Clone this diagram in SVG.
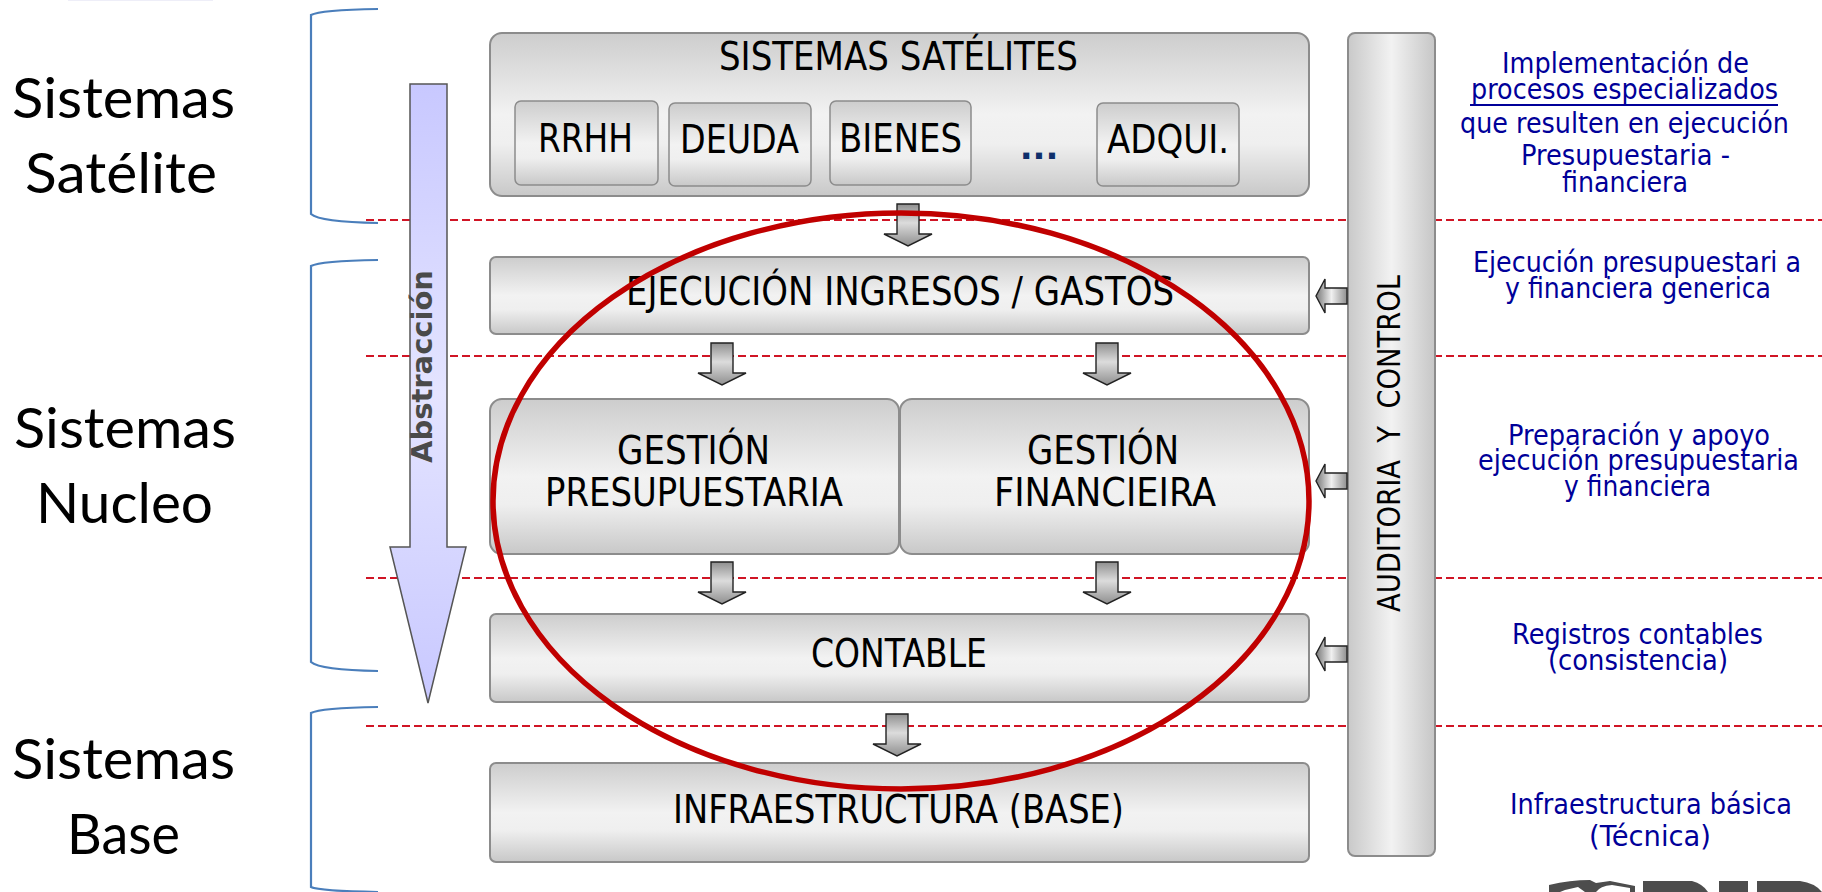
<svg xmlns="http://www.w3.org/2000/svg" width="1822" height="892" viewBox="0 0 1822 892">
<style>
.box{fill:url(#gv);stroke:#8c8c8c;stroke-width:2}
.sub{fill:url(#gv);stroke:#8c8c8c;stroke-width:1.5}
.t{font-family:"DejaVu Sans",sans-serif;font-size:38.5px;fill:#000}
.l{font-family:Lato,"Open Sans",sans-serif;font-size:57px;fill:#000}
.r{font-family:"DejaVu Sans",sans-serif;font-size:28.5px;fill:#000099}
.brace{fill:none;stroke:#4a7ebb;stroke-width:2.2}
.dash{stroke:#d01525;stroke-width:2;stroke-dasharray:8 4;fill:none}
.ad{fill:url(#gd);stroke:#222;stroke-width:1.4}
.al{fill:url(#gl);stroke:#222;stroke-width:1.4}
.logo{fill:#4d4d4d}
</style>
<defs>
<linearGradient id="gv" x1="0" y1="0" x2="0" y2="1"><stop offset="0" stop-color="#cdcdcd"/><stop offset=".5" stop-color="#f2f2f2"/><stop offset=".68" stop-color="#efefef"/><stop offset="1" stop-color="#c8c8c8"/></linearGradient>
<linearGradient id="gh" x1="0" y1="0" x2="1" y2="0"><stop offset="0" stop-color="#c9c9c9"/><stop offset=".5" stop-color="#f2f2f2"/><stop offset="1" stop-color="#c6c6c6"/></linearGradient>
<linearGradient id="gd" x1="0" y1="0" x2="0" y2="1"><stop offset="0" stop-color="#8f8f8f"/><stop offset=".45" stop-color="#dcdcdc"/><stop offset="1" stop-color="#8f8f8f"/></linearGradient>
<linearGradient id="gl" x1="0" y1="0" x2="1" y2="0"><stop offset="0" stop-color="#777"/><stop offset=".5" stop-color="#f0f0f0"/><stop offset="1" stop-color="#8f8f8f"/></linearGradient>
<linearGradient id="gb" gradientUnits="userSpaceOnUse" x1="0" y1="84" x2="0" y2="703"><stop offset="0" stop-color="#c8c8ff"/><stop offset=".5" stop-color="#e4e4ff"/><stop offset="1" stop-color="#c8c8ff"/></linearGradient>
<path id="down" d="M-11 0H11V30H24L0 42L-24 30H-11Z"/>
<path id="left" d="M31 -8V8H9V17L0 0L9 -17V-8Z"/>
</defs>

<rect x="68" y="0" width="145" height="1" fill="#eeeef8"/>

<g id="lines">
<path class="dash" d="M366 220H1822M366 356H1822M366 578H1822M366 726H1822"/>
</g>

<g id="braces">
<path class="brace" d="M378 9Q320 10 311 15V214Q320 222 378 223"/>
<path class="brace" d="M378 260Q320 261 311 266V662Q320 670 378 671"/>
<path class="brace" d="M378 707Q320 708 311 713V887Q320 891 378 892"/>
</g>

<g id="left-labels">
<text class="l" x="12" y="118" textLength="223" lengthAdjust="spacingAndGlyphs">Sistemas</text>
<text class="l" x="25" y="193" textLength="192" lengthAdjust="spacingAndGlyphs">Satélite</text>
<text class="l" x="14" y="448" textLength="222" lengthAdjust="spacingAndGlyphs">Sistemas</text>
<text class="l" x="36" y="523" textLength="177" lengthAdjust="spacingAndGlyphs">Nucleo</text>
<text class="l" x="12" y="779" textLength="223" lengthAdjust="spacingAndGlyphs">Sistemas</text>
<text class="l" x="67" y="854" textLength="113" lengthAdjust="spacingAndGlyphs">Base</text>
</g>

<g id="abstraccion">
<path d="M410 84H447V547H466L428 703L390 547H410Z" fill="url(#gb)" stroke="#555" stroke-width="1.5"/>
<text transform="translate(432 463) rotate(-90)" font-family="'DejaVu Sans',sans-serif" font-weight="700" font-size="29" fill="#4a4a4a" textLength="193" lengthAdjust="spacingAndGlyphs">Abstracción</text>
</g>

<g id="satelites">
<rect class="box" x="490" y="33" width="819" height="163" rx="12"/>
<text class="t" x="719" y="70" textLength="359" lengthAdjust="spacingAndGlyphs">SISTEMAS SATÉLITES</text>
</g>
<g id="rrhh"><rect class="sub" x="515" y="101" width="143" height="84" rx="6"/><text class="t" x="538" y="152" textLength="95" lengthAdjust="spacingAndGlyphs">RRHH</text></g>
<g id="deuda"><rect class="sub" x="669" y="103" width="142" height="83" rx="6"/><text class="t" x="680" y="153" textLength="119" lengthAdjust="spacingAndGlyphs">DEUDA</text></g>
<g id="bienes"><rect class="sub" x="830" y="101" width="141" height="84" rx="6"/><text class="t" x="839" y="152" textLength="123" lengthAdjust="spacingAndGlyphs">BIENES</text></g>
<text x="1039" y="159" text-anchor="middle" font-family="'DejaVu Sans',sans-serif" font-weight="700" font-size="34" fill="#0f2f6b">...</text>
<g id="adqui"><rect class="sub" x="1097" y="103" width="142" height="83" rx="6"/><text class="t" x="1107" y="153" textLength="122" lengthAdjust="spacingAndGlyphs">ADQUI.</text></g>

<g id="ejecucion">
<rect class="box" x="490" y="257" width="819" height="77" rx="6"/>
<text class="t" x="626" y="305" textLength="548" lengthAdjust="spacingAndGlyphs">EJECUCIÓN INGRESOS / GASTOS</text>
</g>
<g id="presupuestaria">
<rect class="box" x="490" y="399" width="409" height="155" rx="12"/>
<text class="t" x="617" y="464" textLength="153" lengthAdjust="spacingAndGlyphs">GESTIÓN</text>
<text class="t" x="545" y="506" textLength="298" lengthAdjust="spacingAndGlyphs">PRESUPUESTARIA</text>
</g>
<g id="financiera">
<rect class="box" x="900" y="399" width="409" height="155" rx="12"/>
<text class="t" x="1027" y="464" textLength="152" lengthAdjust="spacingAndGlyphs">GESTIÓN</text>
<text class="t" x="994" y="506" textLength="222" lengthAdjust="spacingAndGlyphs">FINANCIEIRA</text>
</g>
<g id="contable">
<rect class="box" x="490" y="614" width="819" height="88" rx="6"/>
<text class="t" x="811" y="667" textLength="176" lengthAdjust="spacingAndGlyphs">CONTABLE</text>
</g>
<g id="infraestructura">
<rect class="box" x="490" y="763" width="819" height="99" rx="6"/>
<text class="t" x="673" y="823" textLength="451" lengthAdjust="spacingAndGlyphs">INFRAESTRUCTURA (BASE)</text>
</g>
<g id="auditoria">
<rect x="1348" y="33" width="87" height="823" rx="7" fill="url(#gh)" stroke="#8c8c8c" stroke-width="2"/>
<text transform="translate(1400 612) rotate(-90)" font-family="'DejaVu Sans',sans-serif" font-size="32" fill="#000" textLength="337" lengthAdjust="spacingAndGlyphs" style="white-space:pre">AUDITORIA  Y  CONTROL</text>
</g>

<g id="connectors">
<use href="#down" class="ad" x="908" y="204"/>
<use href="#down" class="ad" x="722" y="343"/>
<use href="#down" class="ad" x="1107" y="343"/>
<use href="#down" class="ad" x="722" y="562"/>
<use href="#down" class="ad" x="1107" y="562"/>
<use href="#down" class="ad" x="897" y="714"/>
<use href="#left" class="al" x="1316" y="296"/>
<use href="#left" class="al" x="1316" y="481"/>
<use href="#left" class="al" x="1316" y="654"/>
</g>

<g id="right-labels">
<text class="r" x="1502" y="73" textLength="247" lengthAdjust="spacingAndGlyphs">Implementación de</text>
<text class="r" x="1471" y="99" textLength="307" lengthAdjust="spacingAndGlyphs">procesos especializados</text>
<path d="M1470 105H1778" stroke="#000099" stroke-width="2"/>
<text class="r" x="1460" y="133" textLength="329" lengthAdjust="spacingAndGlyphs">que resulten en ejecución</text>
<text class="r" x="1521" y="165" textLength="209" lengthAdjust="spacingAndGlyphs">Presupuestaria -</text>
<text class="r" x="1562" y="192" textLength="126" lengthAdjust="spacingAndGlyphs">financiera</text>
<text class="r" x="1473" y="272" textLength="328" lengthAdjust="spacingAndGlyphs">Ejecución presupuestari a</text>
<text class="r" x="1505" y="298" textLength="266" lengthAdjust="spacingAndGlyphs">y financiera generica</text>
<text class="r" x="1508" y="445" textLength="262" lengthAdjust="spacingAndGlyphs">Preparación y apoyo</text>
<text class="r" x="1478" y="470" textLength="321" lengthAdjust="spacingAndGlyphs">ejecución presupuestaria</text>
<text class="r" x="1564" y="496" textLength="147" lengthAdjust="spacingAndGlyphs">y financiera</text>
<text class="r" x="1512" y="644" textLength="251" lengthAdjust="spacingAndGlyphs">Registros contables</text>
<text class="r" x="1548" y="670" textLength="180" lengthAdjust="spacingAndGlyphs">(consistencia)</text>
<text class="r" x="1510" y="814" textLength="282" lengthAdjust="spacingAndGlyphs">Infraestructura básica</text>
<text class="r" x="1589" y="846" textLength="122" lengthAdjust="spacingAndGlyphs">(Técnica)</text>
</g>

<ellipse id="highlight" cx="901" cy="501" rx="408" ry="288" fill="none" stroke="#c00000" stroke-width="5.5"/>

<g id="logo">
<path class="logo" d="M1549 892V885Q1570 880 1590 880L1596 883L1610 881L1635 886V892H1630V888L1612 885Q1600 886 1596 892H1585L1578 887L1565 890L1560 892Z"/>
<path class="logo" d="M1643 881H1692Q1703 884 1708 892H1643Z"/>
<path class="logo" d="M1719 881H1748V892H1719Z"/>
<path class="logo" d="M1757 881H1800Q1815 883 1822 892H1757Z"/>
</g>
</svg>
